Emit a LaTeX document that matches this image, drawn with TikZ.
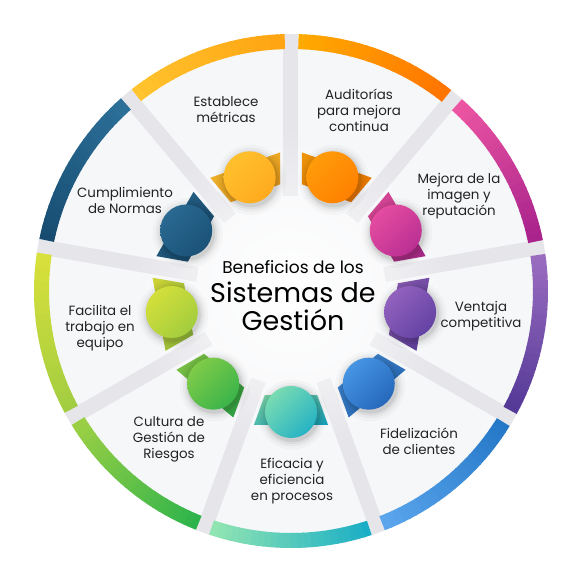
\documentclass[tikz,border=0pt]{standalone}
\usepackage{fontspec}
\setmainfont{Poppins}
\usetikzlibrary{fadings,shadings}

\definecolor{sectorbg}{HTML}{F6F7F9}
\definecolor{divider}{HTML}{E5E5EA}
\definecolor{labeltext}{HTML}{222222}
\tikzfading[name=glow, inner color=transparent!0, outer color=transparent!100]

\begin{document}
\begin{tikzpicture}[x=1pt,y=1pt,
    lbl/.style={align=center, text=labeltext, inner sep=0pt,
      font=\fontsize{13.4}{16}\selectfont},
    ttl/.style={align=center, text=black, inner sep=0pt}]
    \useasboundingbox (-291,-291) rectangle (291,291);
    \fill[white] (-291,-291) rectangle (291,291);

    % sectors and dividers
    \fill[sectorbg] (0,0) circle (245);
    \foreach \d in {130,90,50,10,-30,-70,-110,-150,170}
      \fill[divider, rotate=\d] (95,-7.5) rectangle (257,7.5);
    \fill[white, path fading=glow] (0,0) circle (165);

    % ring, bands and balls
    \foreach \a/\ra/\rb/\bl/\bd in {
        110/FFC42E/FFA412/FFC531/FFA51C,
        70/FFAA00/FF7500/FFA10A/FF7B00,
        30/EC55A2/A8238C/EE52A3/B02A90,
        -10/9A6CC0/553A98/9C68C4/5A3C9E,
        -50/2478C8/5AA5EC/4E9EEC/1F5FB2,
        -90/1AAEC6/90E4B2/8AE4AE/15AAC8,
        -130/2DB34B/9ACF44/8ED048/2CAF4B,
        -170/A2CD41/D8E03B/DEE33A/98C93F,
        150/174C70/2C6F98/2D6E97/174D72}{
      \definecolor{ringA}{HTML}{\ra}
      \definecolor{ringB}{HTML}{\rb}
      \definecolor{ballL}{HTML}{\bl}
      \definecolor{ballD}{HTML}{\bd}
      \foreach \k in {0,...,23}{
        \pgfmathsetmacro\s{\a+18.3-\k*1.525}
        \pgfmathsetmacro\e{\s-1.8}
        \pgfmathtruncatemacro\p{100-100*\k/23}
        \fill[ringA!\p!ringB] (\s:242) arc[start angle=\s, end angle=\e, radius=242]
          -- (\e:257) arc[start angle=\e, end angle=\s, radius=257] -- cycle;
      }
      \shade[upper left=ballL!93!black, lower right=ballD!93!black,
        upper right=ballL!50!ballD!93!black, lower left=ballL!50!ballD!93!black]
        (\a-14.14:107.25) -- (\a-15.48:139.04) -- (\a+15.48:139.04)
        -- (\a+14.14:107.25) -- cycle;
      \foreach \r/\o in {35/0.025,32/0.035,29.5/0.05,27.5/0.07}
        \fill[black, opacity=\o, shift={(\a:121)}] (1.5,-2.5) circle (\r);
      \shade[upper left=ballL, lower right=ballD, upper right=ballL!50!ballD,
        lower left=ballL!50!ballD] (\a:121) circle (26);
    }

    % labels
    \node[lbl] (establece) at (-65,181) {Establece\\métricas};
    \node[lbl] (auditorias) at (68,181) {Auditorías\\para mejora\\continua};
    \node[lbl] (imagen) at (168,95) {Mejora de la\\imagen y\\reputación};
    \node[lbl] (ventaja) at (190,-25) {Ventaja\\competitiva};
    \node[lbl] (fidelizacion) at (128,-150) {Fidelización\\de clientes};
    \node[lbl] (eficacia) at (1,-190) {Eficacia y\\eficiencia\\en procesos};
    \node[lbl] (riesgos) at (-122,-148) {Cultura de\\Gestión de\\Riesgos};
    \node[lbl] (equipo) at (-191,-37) {Facilita el\\trabajo en\\equipo};
    \node[lbl] (normas) at (-166,91) {Cumplimiento\\de Normas};

    % title
    \node[ttl, font=\fontsize{17}{20}\selectfont] (beneficios) at (2,24) {Beneficios de los};
    \node[ttl, font=\fontsize{27}{30}\selectfont] (sistemas) at (2,-1) {Sistemas de};
    \node[ttl, font=\fontsize{27}{30}\selectfont] (gestion) at (2,-29) {Gestión};
\end{tikzpicture}
\end{document}
